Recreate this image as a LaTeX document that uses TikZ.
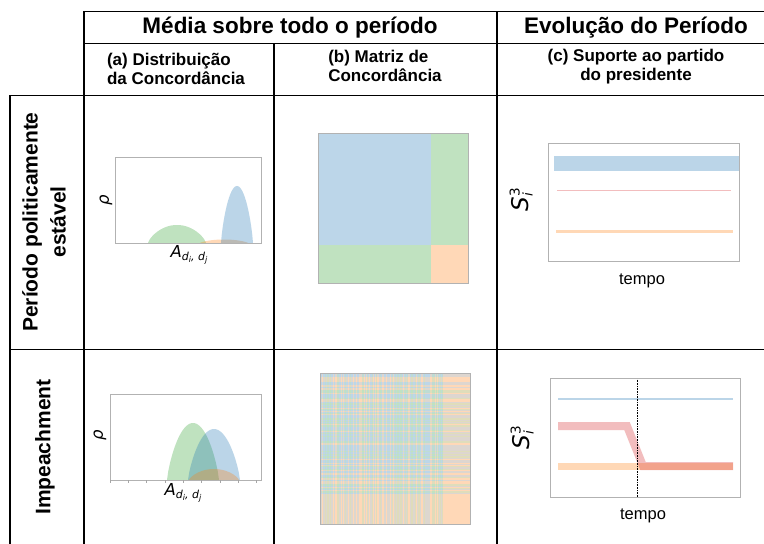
\documentclass[tikz,border=0pt]{standalone}
\usepackage{fontspec}
\setmainfont{Liberation Sans}
\newfontfamily\dvs{DejaVu Sans}
\definecolor{tblue}{HTML}{1F77B4}
\definecolor{torange}{HTML}{FF7F0E}
\definecolor{tgreen}{HTML}{2CA02C}
\definecolor{tred}{HTML}{D62728}
\colorlet{lblue}{tblue!30!white}
\colorlet{lgreen}{tgreen!30!white}
\colorlet{lorange}{torange!30!white}
\begin{document}
\begin{tikzpicture}[x=1pt,y=-1pt,
  vgrid/.style={line width=1.3pt, black},
  hgrid/.style={line width=0.9pt, black},
  axbox/.style={draw=black!30, line width=0.7pt},
  hdr/.style={font=\fontsize{22.5}{26}\selectfont\bfseries},
  subhdr/.style={font=\fontsize{17}{19}\selectfont\bfseries},
  rowlab/.style={font=\fontsize{21}{28}\selectfont\bfseries, rotate=90, align=center},
  lab/.style={font=\fontsize{16.5}{18}\selectfont},
  hump/.style={fill opacity=0.3}]
\useasboundingbox (0,0) rectangle (764,544);
\fill[white] (0,0) rectangle (764,544);
% ---- table grid
\draw[hgrid] (84,11) -- (764,11);
\draw[hgrid] (84,43) -- (764,43);
\draw[hgrid] (10,95) -- (764,95);
\draw[hgrid] (10,349) -- (764,349);
\draw[vgrid] (10,95) -- (10,544);
\draw[vgrid] (84,11) -- (84,544);
\draw[vgrid] (274,43) -- (274,544);
\draw[vgrid] (497,11) -- (497,544);
% ---- headers
\node[hdr] (h1) at (290,28) {Média sobre todo o período};
\node[hdr] (h2) at (636,28) {Evolução do Período};
\node[subhdr, align=left] (sa) at (176,69) {(a) Distribuição\\da Concordância};
\node[subhdr, align=left] (sb) at (385,66) {(b) Matriz de\\Concordância};
\node[subhdr, align=center] (sc) at (636,67) {(c) Suporte ao partido\\do presidente};
% ---- row labels
\node[rowlab] (r1) at (44,222) {Período politicamente\\estável};
\node[rowlab] (r2) at (45,447) {Impeachment};
% ---- (a) stable
\begin{scope}
\clip (115,150) rectangle (261,243);
\fill[tgreen, hump] plot[domain=-1:1, samples=41] ({177+29*\x}, {243-18*(1.0001-\x*\x)^0.75}) -- cycle;
\fill[torange, hump] plot[domain=-1:1, samples=41] ({224+24*\x}, {243-3.5*(1.0001-\x*\x)^0.75}) -- cycle;
\fill[tblue, hump] plot[domain=-1:1, samples=41] ({237+16*\x}, {243-57*(1.0001-\x*\x)^0.8}) -- cycle;
\end{scope}
\draw[axbox] (115,157) rectangle (261,243);
\node[lab, rotate=90] (rho1) at (106,200) {\dvs\itshape ρ};
\node[lab] (A1) at (189,255) {\dvs\itshape A\raisebox{-3pt}{\fontsize{11}{11}\selectfont d\raisebox{-2pt}{\fontsize{8}{8}\selectfont i}, d\raisebox{-2pt}{\fontsize{8}{8}\selectfont j}}};
% ---- (a) impeachment
\begin{scope}
\clip (110,390) rectangle (261,480);
\fill[tgreen, hump] plot[domain=-1:1, samples=41] ({193+26*\x}, {480-57*(1.0001-\x*\x)^0.8}) -- cycle;
\fill[tblue, hump] plot[domain=-1:1, samples=41] ({214+26*\x}, {480-51*(1.0001-\x*\x)^0.8}) -- cycle;
\fill[torange, hump] plot[domain=-1:1, samples=41] ({214+25*\x}, {480-11*(1.0001-\x*\x)^0.75}) -- cycle;
\end{scope}
\draw[axbox] (110,394) rectangle (261,480);
\foreach \k in {0,...,8} \draw[black!35, line width=0.5pt] ({110+18.3*\k},480) -- ++(0,2.5);
\node[lab, rotate=90] (rho2) at (100,435) {\dvs\itshape ρ};
\node[lab] (A2) at (183,493) {\dvs\itshape A\raisebox{-3pt}{\fontsize{11}{11}\selectfont d\raisebox{-2pt}{\fontsize{8}{8}\selectfont i}, d\raisebox{-2pt}{\fontsize{8}{8}\selectfont j}}};
% ---- (b) stable matrix
\fill[lblue] (318,133) rectangle (431,245);
\fill[lgreen] (431,133) rectangle (468,245);
\fill[lgreen] (318,245) rectangle (431,283);
\fill[lorange] (431,245) rectangle (468,283);
\draw[axbox] (318,133) rectangle (468,283);
% ---- (b) impeachment matrix
\pgfmathsetseed{11}
\foreach \i in {0,...,149}{
  \pgfmathsetmacro{\xx}{320+\i}
  \pgfmathtruncatemacro{\r}{\xx>=443 ? 9 : random(0,9)}
  \ifnum\r<4 \def\cc{lblue}\else\ifnum\r<7 \def\cc{lgreen}\else\def\cc{lorange}\fi\fi
  \fill[\cc] (\xx,373) rectangle ++(1.05,151);
}
\foreach \j in {0,...,150}{
  \pgfmathsetmacro{\yy}{373+\j}
  \pgfmathtruncatemacro{\r}{\yy>=495 ? 9 : random(0,9)}
  \ifnum\r<4 \def\cc{lblue}\else\ifnum\r<7 \def\cc{lgreen}\else\def\cc{lorange}\fi\fi
  \fill[\cc, fill opacity=0.5] (320,\yy) rectangle ++(150,1);
}
\draw[axbox] (320,373) rectangle (470,524);
% ---- (c) stable
\fill[tblue, fill opacity=0.3] (554,156) rectangle (739,171);
\draw[tred, draw opacity=0.3, line width=1pt] (557,190) -- (731,190);
\fill[torange, fill opacity=0.3] (556,229.5) rectangle (733,233);
\draw[axbox] (548,143) rectangle (739,261);
\node[lab] (t1) at (642,281) {tempo};
\node[rotate=90, font=\dvs\itshape\fontsize{23}{23}\selectfont] (s1) at (521,202) {S\rlap{\raisebox{9pt}{\upshape\fontsize{13.5}{13.5}\selectfont 3}}\raisebox{-4pt}{\fontsize{13.5}{13.5}\selectfont i}};
% ---- (c) impeachment
\draw[tblue, draw opacity=0.3, line width=2pt] (558,399) -- (733,399);
\draw[torange, draw opacity=0.3, line width=7pt] (558,466) -- (733,466);
\draw[tred, draw opacity=0.3, line width=8pt] (558,426) -- (627,426) -- (643,466) -- (733,466);
\draw[black, densely dotted, line width=0.6pt] (637,378) -- (637,497);
\draw[axbox] (550,378) rectangle (740,497);
\node[lab] (t2) at (643,516) {tempo};
\node[rotate=90, font=\dvs\itshape\fontsize{23}{23}\selectfont] (s2) at (522,440) {S\rlap{\raisebox{9pt}{\upshape\fontsize{13.5}{13.5}\selectfont 3}}\raisebox{-4pt}{\fontsize{13.5}{13.5}\selectfont i}};
\end{tikzpicture}
\end{document}
